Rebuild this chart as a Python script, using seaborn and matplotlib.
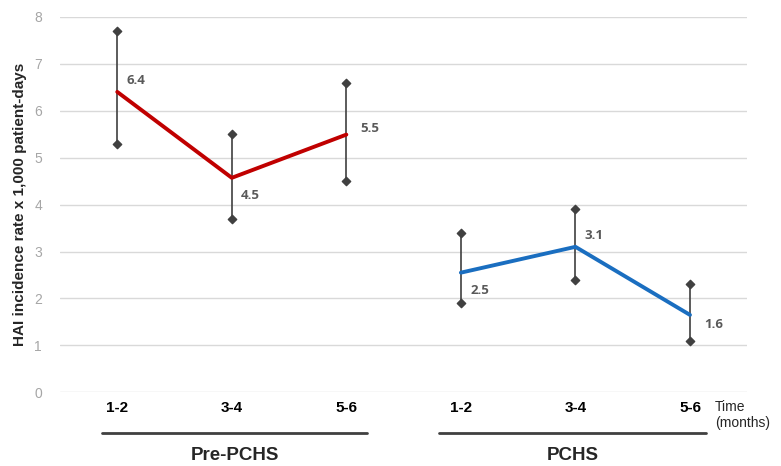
import matplotlib
matplotlib.use('Agg')
import matplotlib.pyplot as plt
import matplotlib.transforms as mtransforms
import seaborn as sns
import pandas as pd

# donnees
periods = ['1-2', '3-4', '5-6', '1-2', '3-4', '5-6']
groups = ['Pre-PCHS'] * 3 + ['PCHS'] * 3
rate = [6.4, 4.57, 5.49, 2.55, 3.10, 1.65]
lower = [5.3, 3.7, 4.5, 1.9, 2.4, 1.1]
upper = [7.7, 5.5, 6.6, 3.4, 3.9, 2.3]
value_labels = ['6.4', '4.5', '5.5', '2.5', '3.1', '1.6']
group_names = ['Pre-PCHS', 'PCHS']

df = pd.DataFrame({'pos': range(len(rate)), 'period': periods,
                   'group': groups, 'rate': rate,
                   'lower': lower, 'upper': upper, 'label': value_labels})

sns.set_style('white')
plt.rcParams['font.family'] = ['Liberation Sans', 'DejaVu Sans']

fig = plt.figure(figsize=(7.81, 4.66), dpi=100)
ax = fig.add_axes([0.0768, 0.158, 0.880, 0.806])

for y in range(0, 9):
    ax.axhline(y, color='#D9D9D9', lw=1.0, zorder=0)

# barres d'erreur
ax.vlines(df['pos'], df['lower'], df['upper'], color='#404040', lw=1.2, zorder=2)
ax.scatter(df['pos'], df['lower'], marker='D', s=18, color='#404040', zorder=3)
ax.scatter(df['pos'], df['upper'], marker='D', s=18, color='#404040', zorder=3)

sns.lineplot(data=df, x='pos', y='rate', hue='group', hue_order=group_names,
             palette={'Pre-PCHS': '#C00000', 'PCHS': '#1A6EC0'},
             lw=2.8, legend=False, ax=ax, zorder=4)

# etiquettes de valeurs
offsets = [(0.08, 0.24), (0.08, -0.37), (0.12, 0.13),
           (0.08, -0.37), (0.08, 0.24), (0.12, -0.2)]
for (_, r), (dx, dy) in zip(df.iterrows(), offsets):
    ax.text(r['pos'] + dx, r['rate'] + dy, r['label'], ha='left', va='center',
            fontsize=9.5, fontweight='bold', color='#595959',
            family=['Open Sans', 'DejaVu Sans'])

ax.set_xlim(-0.5, 5.5)
ax.set_ylim(0, 8)
ax.set_yticks(range(0, 9))
ax.set_xticks(df['pos'])
ax.set_xticklabels(periods, fontsize=11, fontweight='bold', color='black')
ax.tick_params(axis='x', length=0, pad=6)
ax.tick_params(axis='y', length=0, pad=13, labelsize=10, labelcolor='#A6A6A6')
ax.set_xlabel('')
ax.set_ylabel('HAI incidence rate x 1,000 patient-days', fontsize=11,
              fontweight='bold', labelpad=5)
for s in ax.spines.values():
    s.set_visible(False)

# lignes de groupes sous l'axe
trans = mtransforms.blended_transform_factory(ax.transData, ax.transAxes)
spans = [(-0.13, 2.18), (2.81, 5.14)]
for name, (x0, x1) in zip(group_names, spans):
    ax.plot([x0, x1], [-0.109, -0.109], color='#404040', lw=2,
            transform=trans, clip_on=False)
    ax.text((x0 + x1) / 2, -0.168, name, transform=trans, ha='center',
            va='center', fontsize=13.5, fontweight='bold')

ax.text(5.22, -0.02, 'Time\n(months)', transform=trans, ha='left', va='top',
        fontsize=10, linespacing=1.15)

fig.savefig('out.png', dpi=100, facecolor='white')
